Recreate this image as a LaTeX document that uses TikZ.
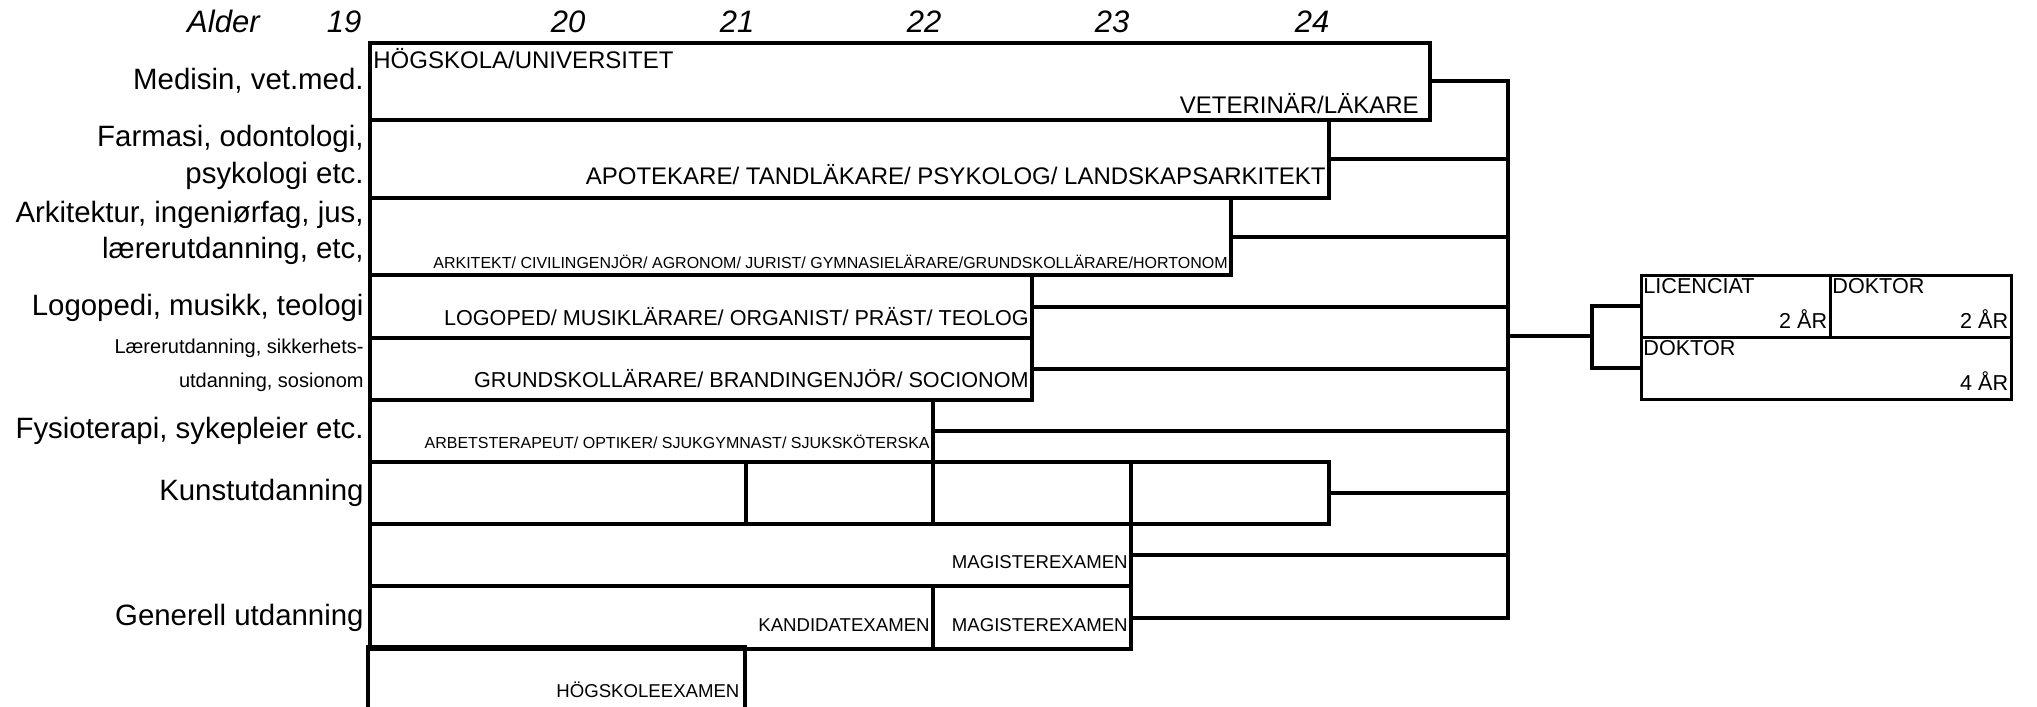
\documentclass[tikz,border=0pt]{standalone}
\usepackage{fontspec}
\setmainfont{Liberation Sans}
\usetikzlibrary{positioning}
\tikzset{
    rowbox/.style 2 args={draw,line width=2pt,anchor=north west,inner sep=0pt,minimum width=#1*0.5pt,minimum height=#2*0.5pt},
    rbox/.style 2 args={draw,line width=1.3pt,anchor=north west,inner sep=0pt,minimum width=#1*0.5pt,minimum height=#2*0.5pt},
    link/.style={line width=2pt},
    agelabel/.style={anchor=base,inner sep=0pt,font=\fontsize{15.5}{18}\selectfont\itshape},
    sidelabel/.style={anchor=base east,inner sep=0pt,font=\fontsize{14.7}{17}\selectfont},
    sidesmall/.style={anchor=base east,inner sep=0pt,font=\fontsize{10}{12}\selectfont},
    headtext/.style={anchor=north west,inner sep=0pt,font=\fontsize{12}{14}\selectfont},
    endtext/.style={anchor=base east,inner sep=0pt,xshift=-2.5pt,yshift=4.5pt},
    bigtext/.style={font=\fontsize{12}{14}\selectfont},
    midtext/.style={font=\fontsize{10.8}{13}\selectfont},
    smalltext/.style={font=\fontsize{8}{9}\selectfont},
    examtext/.style={font=\fontsize{9.3}{11}\selectfont},
    rtop/.style={anchor=north west,inner sep=0pt,font=\fontsize{10.8}{13}\selectfont},
    rend/.style={anchor=base east,inner sep=0pt,xshift=-2pt,yshift=5pt,font=\fontsize{10.8}{13}\selectfont}
}
\begin{document}
\begin{tikzpicture}[x=0.5pt,y=-0.5pt]
\useasboundingbox (0,0) rectangle (2037,706);
% ages
\node[agelabel,anchor=base east] (alder) at (260,33) {Alder};
\node[agelabel] (a19) at (344,33) {19};
\node[agelabel] (a20) at (568,33) {20};
\node[agelabel] (a21) at (737,33) {21};
\node[agelabel] (a22) at (924,33) {22};
\node[agelabel] (a23) at (1112,33) {23};
\node[agelabel] (a24) at (1312,33) {24};
% side labels
\node[sidelabel] (lmed) at (364,90) {Medisin, vet.med.};
\node[sidelabel] (lfarm) at (364,146) {Farmasi, odontologi,};
\node[sidelabel] (lfarmb) at (364,183) {psykologi etc.};
\node[sidelabel] (lark) at (364,222) {Arkitektur, ingeniørfag, jus,};
\node[sidelabel] (larkb) at (364,258) {lærerutdanning, etc,};
\node[sidelabel] (llogo) at (364,315) {Logopedi, musikk, teologi};
\node[sidesmall] (llaer) at (364,353) {Lærerutdanning, sikkerhets-};
\node[sidesmall] (llaerb) at (364,387) {utdanning, sosionom};
\node[sidelabel] (lfys) at (364,438) {Fysioterapi, sykepleier etc.};
\node[sidelabel] (lkunst) at (364,500) {Kunstutdanning};
\node[sidelabel] (lgen) at (364,625) {Generell utdanning};
% rows
\node[rowbox={1060}{77}] (med) at (368,41) {};
\node[rowbox={959}{78}] (farm) at (368,118) {};
\node[rowbox={861}{77}] (ark) at (368,196) {};
\node[rowbox={662}{63}] (logo) at (368,273) {};
\node[rowbox={662}{62}] (laer) at (368,336) {};
\node[rowbox={563}{62}] (fys) at (368,398) {};
\node[rowbox={376}{62}] (kunsta) at (368,460) {};
\node[rowbox={187}{62}] (kunstb) at (744,460) {};
\node[rowbox={198}{62}] (kunstc) at (931,460) {};
\node[rowbox={198}{62}] (kunstd) at (1129,460) {};
\node[rowbox={761}{62}] (mag) at (368,522) {};
\node[rowbox={563}{63}] (kand) at (368,584) {};
\node[rowbox={198}{63}] (magb) at (931,584) {};
\node[anchor=north west,inner sep=0pt,minimum width=188pt,minimum height=29.5pt] (hog) at (368,647) {};
\draw[link] (hog.south west) -- (hog.north west) -- (hog.north east) -- (hog.south east);
% texts in rows
\node[headtext] (thog) at ([shift={(5,7)}]med.north west) {HÖGSKOLA/UNIVERSITET};
\node[endtext,bigtext,xshift=-4pt] (tmed) at (med.south east) {VETERINÄR/LÄKARE};
\node[endtext,bigtext,yshift=3.3pt] (tfarm) at (farm.south east) {APOTEKARE/ TANDLÄKARE/ PSYKOLOG/ LANDSKAPSARKITEKT};
\node[endtext,smalltext] (tark) at (ark.south east) {ARKITEKT/ CIVILINGENJÖR/ AGRONOM/ JURIST/ GYMNASIELÄRARE/GRUNDSKOLLÄRARE/HORTONOM};
\node[endtext,midtext,yshift=2.6pt] (tlogo) at (logo.south east) {LOGOPED/ MUSIKLÄRARE/ ORGANIST/ PRÄST/ TEOLOG};
\node[endtext,midtext,yshift=2.6pt] (tlaer) at (laer.south east) {GRUNDSKOLLÄRARE/ BRANDINGENJÖR/ SOCIONOM};
\node[endtext,smalltext,yshift=3.3pt] (tfys) at (fys.south east) {ARBETSTERAPEUT/ OPTIKER/ SJUKGYMNAST/ SJUKSKÖTERSKA};
\node[endtext,examtext,yshift=5.3pt] (tmag) at (mag.south east) {MAGISTEREXAMEN};
\node[endtext,examtext,yshift=5.3pt] (tkand) at (kand.south east) {KANDIDATEXAMEN};
\node[endtext,examtext,yshift=5.3pt] (tmagb) at (magb.south east) {MAGISTEREXAMEN};
\node[endtext,examtext] (thogex) at (hog.south east) {HÖGSKOLEEXAMEN};
% bracket
\coordinate (brk) at (1508,336);
\coordinate (split) at (1592,336);
\draw[link] (med.east) -- (med.east -| brk) -- (magb.east -| brk) -- (magb.east);
\draw[link] (farm.east) -- (farm.east -| brk);
\draw[link] (ark.east) -- (ark.east -| brk);
\draw[link] (logo.east) -- (logo.east -| brk);
\draw[link] (laer.east) -- (laer.east -| brk);
\draw[link] (fys.east) -- (fys.east -| brk);
\draw[link] (kunstd.east) -- (kunstd.east -| brk);
\draw[link] (mag.east) -- (mag.east -| brk);
\draw[link] (brk) -- (split);
% research
\node[rbox={189}{62}] (lic) at (1640,274) {};
\node[rbox={181}{62}] (dok) at (1829,274) {};
\node[rbox={370}{62}] (dokb) at (1640,336) {};
\draw[link] (lic.west) -- (lic.west -| split) -- (dokb.west -| split) -- (dokb.west);
\node[rtop] (tlic) at ([shift={(3,4)}]lic.north west) {LICENCIAT};
\node[rend] (tlicy) at (lic.south east) {2 ÅR};
\node[rtop] (tdok) at ([shift={(3,4)}]dok.north west) {DOKTOR};
\node[rend] (tdoky) at (dok.south east) {2 ÅR};
\node[rtop] (tdokb) at ([shift={(3,4)}]dokb.north west) {DOKTOR};
\node[rend] (tdokby) at (dokb.south east) {4 ÅR};
\end{tikzpicture}
\end{document}
